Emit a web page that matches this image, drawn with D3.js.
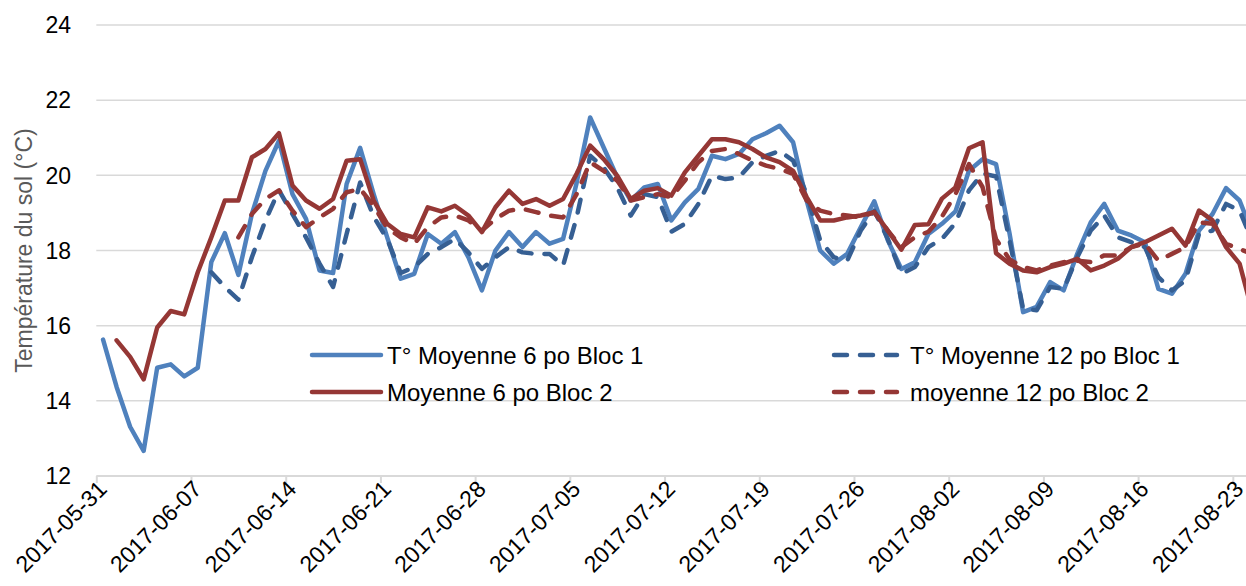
<!DOCTYPE html>
<html>
<head>
<meta charset="utf-8">
<script src="https://cdn.jsdelivr.net/npm/d3@7"></script>
<style>
  body { margin: 0; background: #fff; }
  svg { display: block; font-family: "Liberation Sans", Arial, sans-serif; }
</style>
</head>
<body>
<div id="chart"></div>
<script>
const width = 1246;
const height = 586;

// daily values, starting 2017-05-31 (null = no reading)
const moy6Bloc1 = [15.63, 14.37, 13.31, 12.67, 14.88, 14.97, 14.65, 14.88, 17.69, 18.46,
  17.35, 18.97, 20.12, 20.92, 19.5, 18.84, 17.47, 17.4, 19.77, 20.73,
  19.5, 18.35, 17.25, 17.38, 18.44, 18.18, 18.49, 17.82, 16.94, 18.0,
  18.49, 18.09, 18.49, 18.18, 18.31, 19.8, 21.54, 20.74, 19.95, 19.33,
  19.68, 19.77, 18.8, 19.28, 19.64, 20.52, 20.43, 20.57, 20.96, 21.12,
  21.32, 20.88, 19.33, 18.0, 17.65, 17.91, 18.62, 19.31, 18.27, 17.51,
  17.69, 18.44, 18.71, 19.04, 20.12, 20.43, 20.3, 18.45, 16.36, 16.5,
  17.16, 16.94, 17.91, 18.75, 19.24, 18.53, 18.4, 18.22, 16.98, 16.85,
  17.38, 18.53, 18.97, 19.66, 19.33, 18.4];

const moy12Bloc1 = [null, null, null, null, null, null, null, null, 17.42, 17.03,
  16.69, 17.82, 18.8, 19.6, 18.97, 18.35, 17.65, 17.03, 18.44, 19.81,
  18.9, 18.3, 17.4, 17.56, 17.91, 18.09, 18.31, 17.95, 17.51, 17.82,
  18.09, 17.95, 17.91, 17.91, 17.6, 18.88, 20.52, 20.21, 19.68, 18.93,
  19.5, 19.42, 18.5, 18.71, 19.24, 19.99, 19.9, 19.95, 20.35, 20.52,
  20.65, 20.39, 19.5, 18.27, 17.82, 17.73, 18.53, 19.06, 18.31, 17.38,
  17.56, 18.09, 18.31, 18.73, 19.6, 20.05, 19.97, 18.27, 16.45, 16.41,
  17.03, 16.98, 17.82, 18.53, 18.93, 18.35, 18.22, 18.09, 17.29, 16.94,
  17.2, 18.44, 18.53, 19.24, 19.06, 18.2];

const moy6Bloc2 = [null, 15.61, 15.17, 14.57, 15.95, 16.39, 16.3, 17.42, 18.35, 19.33,
  19.33, 20.48, 20.7, 21.12, 19.73, 19.33, 19.11, 19.37, 20.39, 20.43,
  19.33, 18.71, 18.44, 18.35, 19.15, 19.04, 19.19, 18.93, 18.49, 19.15,
  19.59, 19.24, 19.37, 19.19, 19.37, 20.04, 20.79, 20.43, 19.99, 19.37,
  19.59, 19.66, 19.46, 20.08, 20.52, 20.96, 20.96, 20.88, 20.7, 20.48,
  20.35, 20.12, 19.42, 18.8, 18.8, 18.88, 18.93, 19.02, 18.53, 18.02,
  18.68, 18.7, 19.38, 19.68, 20.72, 20.88, 17.93, 17.65, 17.47, 17.42,
  17.56, 17.65, 17.78, 17.47, 17.6, 17.78, 18.09, 18.22, 18.4, 18.58,
  18.13, 19.06, 18.8, 18.09, 17.65, 16.3];

const moy12Bloc2 = [null, null, null, null, null, null, null, null, null, null,
  18.35, 18.97, 19.37, 19.6, 19.06, 18.62, 18.88, 19.11, 19.55, 19.64,
  19.19, 18.6, 18.35, 18.18, 18.62, 18.88, 18.93, 18.8, 18.53, 18.84,
  19.06, 19.11, 19.02, 18.93, 18.88, 19.5, 20.35, 20.12, 19.86, 19.33,
  19.42, 19.5, 19.42, 19.86, 20.35, 20.65, 20.7, 20.57, 20.39, 20.26,
  20.17, 20.04, 19.33, 19.06, 18.97, 18.93, 18.88, 19.02, 18.53, 18.09,
  18.35, 18.5, 18.9, 19.5, 20.3, 19.69, 18.3, 17.76, 17.56, 17.47,
  17.6, 17.69, 17.73, 17.69, 17.87, 17.87, 18.09, 18.18, 17.73, 17.91,
  18.09, 18.75, 18.71, 18.18, 18.04, 17.9];

const seriesNames = ["T° Moyenne 6 po Bloc 1", "T° Moyenne 12 po Bloc 1", "Moyenne 6 po Bloc 2", "moyenne 12 po Bloc 2"];
const tickLabels = ["2017-05-31", "2017-06-07", "2017-06-14", "2017-06-21", "2017-06-28", "2017-07-05",
  "2017-07-12", "2017-07-19", "2017-07-26", "2017-08-02", "2017-08-09", "2017-08-16", "2017-08-23"];
const yTicks = [12, 14, 16, 18, 20, 22, 24];

const series = [
  { name: seriesNames[0], values: moy6Bloc1, color: "#4f81bd", dash: null },
  { name: seriesNames[1], values: moy12Bloc1, color: "#365f93", dash: "13,13" },
  { name: seriesNames[2], values: moy6Bloc2, color: "#953735", dash: null },
  { name: seriesNames[3], values: moy12Bloc2, color: "#953735", dash: "13,13" },
];

const parse = d3.timeParse("%Y-%m-%d");
const start = parse("2017-05-31");
const end = parse("2017-08-24");
const dayAt = (i) => d3.timeHour.offset(d3.timeDay.offset(start, i), 12);

const x = d3.scaleTime().domain([start, end]).range([96.3, 96.3 + 85 * 13.53]);
const y = d3.scaleLinear().domain([12, 24]).range([476, 25]);

const svg = d3.select("#chart")
  .append("svg")
  .attr("width", width)
  .attr("height", height);

// gridlines
svg.append("g")
  .selectAll("line")
  .data(yTicks)
  .join("line")
  .attr("x1", x(start))
  .attr("x2", width)
  .attr("y1", (d) => y(d))
  .attr("y2", (d) => y(d))
  .attr("stroke", "#d9d9d9")
  .attr("stroke-width", (d) => (d === 12 ? 2 : 1.5));

// y labels
svg.append("g")
  .selectAll("text")
  .data(yTicks)
  .join("text")
  .attr("x", 71)
  .attr("y", (d) => y(d))
  .attr("dy", "0.36em")
  .attr("text-anchor", "end")
  .attr("font-size", 23)
  .attr("fill", "#000")
  .text((d) => d);

svg.append("text")
  .attr("transform", `translate(32,${(y(12) + y(24)) / 2}) rotate(-90)`)
  .attr("text-anchor", "middle")
  .attr("font-size", 23)
  .attr("fill", "#595959")
  .text("Température du sol (°C)");

// x axis
const xAxis = d3.axisBottom(x)
  .tickValues(tickLabels.map(parse))
  .tickSize(7)
  .tickFormat(d3.timeFormat("%Y-%m-%d"));

const gx = svg.append("g").attr("transform", `translate(0,${y(12)})`).call(xAxis);
gx.select(".domain").remove();
gx.selectAll(".tick line").attr("stroke", "#d9d9d9").attr("stroke-width", 2);
gx.selectAll(".tick text")
  .attr("font-family", "Liberation Sans, Arial, sans-serif")
  .attr("font-size", 23)
  .attr("fill", "#000")
  .attr("text-anchor", "end")
  .attr("transform", "translate(0,3) rotate(-45)")
  .attr("x", 0)
  .attr("y", 0)
  .attr("dy", "0.71em");

// lines
const line = d3.line()
  .defined((d) => d != null)
  .x((d, i) => x(dayAt(i)))
  .y((d) => y(d));

svg.append("g")
  .selectAll("path")
  .data(series)
  .join("path")
  .attr("d", (s) => line(s.values))
  .attr("fill", "none")
  .attr("stroke", (s) => s.color)
  .attr("stroke-width", 4.5)
  .attr("stroke-linejoin", "round")
  .attr("stroke-linecap", "round")
  .attr("stroke-dasharray", (s) => s.dash);

// legend
const legendPos = [[312, 355], [834, 355], [312, 392], [834, 392]];
const legend = svg.append("g")
  .selectAll("g")
  .data(series)
  .join("g")
  .attr("transform", (s, i) => `translate(${legendPos[i][0]},${legendPos[i][1]})`);

legend.append("line")
  .attr("x1", 0)
  .attr("x2", (s) => (s.dash ? 63 : 69))
  .attr("stroke", (s) => s.color)
  .attr("stroke-width", 4.5)
  .attr("stroke-linecap", "round")
  .attr("stroke-dasharray", (s) => s.dash);

legend.append("text")
  .attr("x", (s) => (s.dash ? 76 : 75))
  .attr("dy", "0.36em")
  .attr("font-size", 24)
  .attr("fill", "#000")
  .text((s) => s.name);
</script>
</body>
</html>
